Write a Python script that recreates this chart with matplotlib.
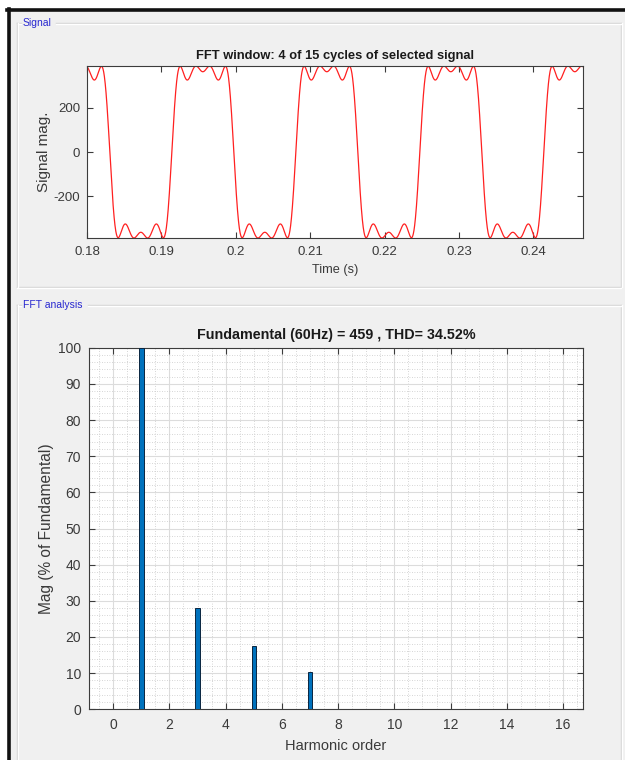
import numpy as np
import matplotlib
matplotlib.use('Agg')
import matplotlib.pyplot as plt
from matplotlib.lines import Line2D
from matplotlib.patches import Rectangle
from matplotlib.ticker import MultipleLocator, FixedLocator

plt.rcParams['font.family'] = ['Liberation Sans', 'DejaVu Sans']
plt.rcParams['axes.unicode_minus'] = False

# FFT result: harmonic orders and magnitudes (% of fundamental)
FUND_HZ = 60
FUND_MAG = 459
THD_PCT = 34.52
N_CYCLES = 4
TOTAL_CYCLES = 15
T_START = 0.18
T_RISE = 0.1914          # rising zero crossing of the fundamental
HARM_ORDER = [1, 3, 5, 7]
HARM_PCT = [100.0, 28.0, 17.4, 10.25]

W, H = 625, 760
BG = '#f0f0f0'
AX_COL = '#3c3c3c'
TXT_COL = '#3a3a3a'


def fx(px):
    return px / W


def fy(py):
    return 1 - py / H


def hline(fig, x0, x1, y, color, lw=1.0):
    fig.add_artist(Line2D([fx(x0), fx(x1)], [fy(y), fy(y)], color=color, lw=lw))


def vline(fig, x, y0, y1, color, lw=1.0):
    fig.add_artist(Line2D([fx(x), fx(x)], [fy(y0), fy(y1)], color=color, lw=lw))


def panel(fig, x0, y0, x1, y1, title):
    # etched frame with the title cut into the top edge
    gap_end = x0 + 7 + 5.3 * len(title)
    for off, col in [(0, '#d4d4d4'), (1, '#ffffff')]:
        hline(fig, x0 + off, x0 + 4, y0 + off, col)
        hline(fig, gap_end, x1, y0 + off, col)
        vline(fig, x0 + off, y0, y1, col)
        vline(fig, x1 + off, y0, y1, col)
        hline(fig, x0, x1, y1 + off, col)
    fig.text(fx(x0 + 6), fy(y0), title, color='#2828d0', fontsize=7.5,
             va='center', ha='left')


def style_axes(ax, size, pad):
    for s in ax.spines.values():
        s.set_color(AX_COL)
        s.set_linewidth(0.8)
    ax.tick_params(direction='in', top=True, right=True, length=4,
                   width=0.8, color=AX_COL, labelcolor=TXT_COL,
                   labelsize=size, pad=pad)


fig = plt.figure(figsize=(W / 100, H / 100), dpi=100)
fig.patch.set_facecolor('white')
fig.add_artist(Rectangle((fx(8), 0), 1, fy(9), transform=fig.transFigure,
                         facecolor=BG, edgecolor='none', zorder=-10))
# dark window frame
hline(fig, 7, W, 9.5, '#111111', lw=2.6)
vline(fig, 8.5, 9, H, '#111111', lw=2.6)

panel(fig, 17, 23, 621, 287, 'Signal')
panel(fig, 17, 305, 621, H + 5, 'FFT analysis')

# --- time signal rebuilt from the harmonic content ---
t_end = T_START + N_CYCLES / FUND_HZ
t = np.linspace(T_START, t_end, 3000)
sig = np.zeros_like(t)
for h, p in zip(HARM_ORDER, HARM_PCT):
    sig += FUND_MAG * p / 100 * np.sin(2 * np.pi * h * FUND_HZ * (t - T_RISE))

ax1 = fig.add_axes([fx(87), fy(238), fx(583) - fx(87), fy(66) - fy(238)])
ax1.plot(t, sig, color='#ff2020', lw=0.9)
ax1.set_xlim(T_START, t_end)
ax1.set_ylim(sig.min(), sig.max())
ax1.xaxis.set_major_locator(FixedLocator([0.18, 0.19, 0.2, 0.21, 0.22, 0.23, 0.24]))
ax1.set_xticklabels(['0.18', '0.19', '0.2', '0.21', '0.22', '0.23', '0.24'])
ax1.yaxis.set_major_locator(FixedLocator([-200, 0, 200]))
style_axes(ax1, 9.5, 6)
ax1.tick_params(axis='y', pad=5)
ax1.set_xlabel('Time (s)', fontsize=9.2, color=TXT_COL, labelpad=4)
ax1.set_ylabel('Signal mag.', fontsize=11, color=TXT_COL, labelpad=2)
ax1.set_title(f'FFT window: {N_CYCLES} of {TOTAL_CYCLES} cycles of selected signal',
              fontsize=9.3, fontweight='bold', color='#1a1a1a', pad=5)

# --- harmonic spectrum ---
ax2 = fig.add_axes([fx(89.3), fy(709.3), fx(582.7) - fx(89.3), fy(347.7) - fy(709.3)])
ax2.bar(HARM_ORDER, HARM_PCT, width=0.16, color='#0072bd',
        edgecolor='#0a2540', linewidth=0.7, zorder=3)
ax2.set_xlim(-0.85, 16.7)
ax2.set_ylim(0, 100)
ax2.xaxis.set_major_locator(MultipleLocator(2))
ax2.xaxis.set_minor_locator(MultipleLocator(0.5))
ax2.yaxis.set_major_locator(MultipleLocator(10))
ax2.yaxis.set_minor_locator(MultipleLocator(2))
ax2.grid(which='major', color='#dcdcdc', lw=0.8, ls='-', zorder=0)
ax2.grid(which='minor', color='#c8c8c8', lw=0.6, ls=(0, (1, 2)), zorder=0)
ax2.set_axisbelow(True)
style_axes(ax2, 10, 6)
ax2.tick_params(which='minor', length=0)
ax2.set_xlabel('Harmonic order', fontsize=10.5, color=TXT_COL, labelpad=5)
ax2.set_ylabel('Mag (% of Fundamental)', fontsize=11.2, color=TXT_COL, labelpad=3)
ax2.set_title(f'Fundamental ({FUND_HZ}Hz) = {FUND_MAG} , THD= {THD_PCT:.2f}%',
              fontsize=10.3, fontweight='bold', color='#1a1a1a', pad=6)

fig.savefig('out.png', dpi=100, facecolor=fig.get_facecolor())
